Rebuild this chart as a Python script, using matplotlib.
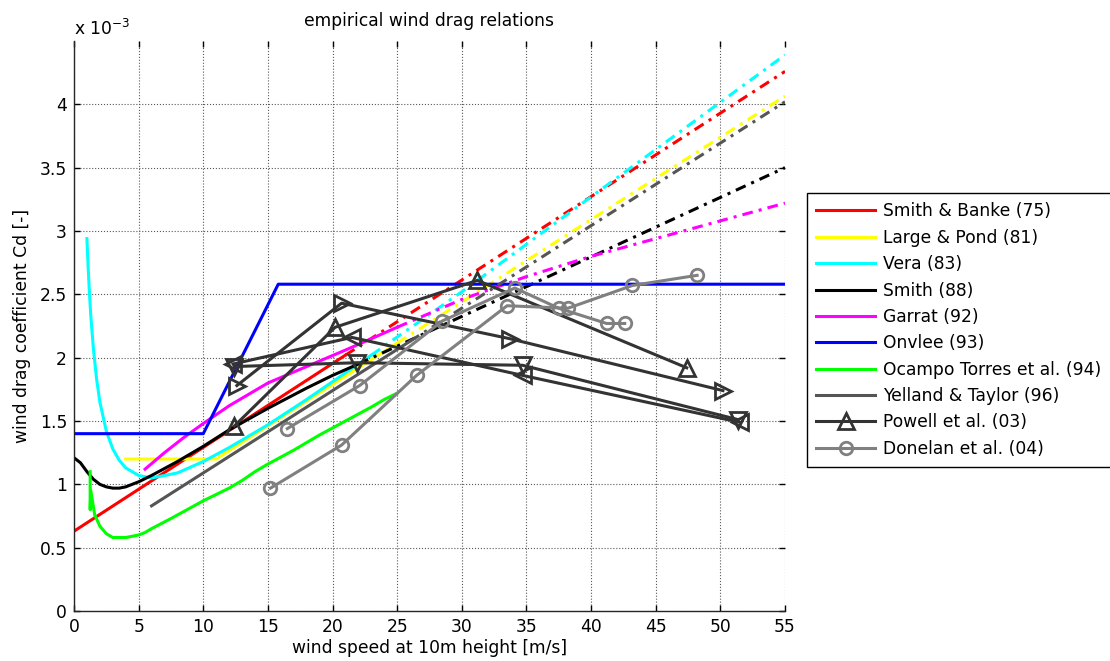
import matplotlib.pyplot as plt

# drag coefficients in units of 1e-3, wind speed in m/s
smith_banke_u = [0, 21]
smith_banke_cd = [0.63, 2.02]
smith_banke_ext_u = [21, 55]
smith_banke_ext_cd = [2.02, 4.26]

large_pond_u = [4, 11, 25]
large_pond_cd = [1.20, 1.20, 2.115]
large_pond_ext_u = [25, 55]
large_pond_ext_cd = [2.115, 4.065]

vera_u = [1.0, 1.1, 1.2, 1.3, 1.5, 1.75, 2, 2.5, 3, 3.5, 4, 5, 6, 7, 8, 10, 12, 15, 18, 20, 23]
vera_cd = [2.94, 2.70, 2.50, 2.33, 2.07, 1.83, 1.65, 1.42, 1.28, 1.19, 1.13, 1.07, 1.05, 1.07,
           1.09, 1.18, 1.29, 1.47, 1.67, 1.81, 2.02]
vera_ext_u = [23, 30, 40, 55]
vera_ext_cd = [2.02, 2.52, 3.27, 4.39]

smith88_u = [0, 0.5, 1, 1.5, 2, 2.5, 3, 3.5, 4, 5, 6, 8, 10, 12, 15, 18, 20, 22]
smith88_cd = [1.21, 1.17, 1.10, 1.04, 1.00, 0.98, 0.97, 0.97, 0.98, 1.02, 1.07, 1.18, 1.30,
              1.43, 1.60, 1.76, 1.86, 1.95]
smith88_ext_u = [22, 55]
smith88_ext_cd = [1.95, 3.50]

garrat_u = [5.5, 7, 8.5, 10, 12, 15, 18, 21, 25]
garrat_cd = [1.12, 1.25, 1.37, 1.48, 1.62, 1.80, 1.93, 2.06, 2.24]
garrat_ext_u = [25, 30, 35, 40, 45, 50, 55]
garrat_ext_cd = [2.24, 2.46, 2.64, 2.80, 2.94, 3.08, 3.22]

onvlee_u = [0, 10, 15.8, 55]
onvlee_cd = [1.40, 1.40, 2.58, 2.58]

ocampo_u = [1.25, 1.25, 1.3, 1.6, 2.0, 2.5, 3.0, 4.0, 5.0, 5.5, 6, 7.5, 10, 12, 13, 14, 15,
            17, 19, 21, 23, 24, 25]
ocampo_cd = [1.10, 0.80, 0.95, 0.76, 0.67, 0.61, 0.58, 0.58, 0.60, 0.62, 0.65, 0.73, 0.87,
             0.97, 1.03, 1.10, 1.16, 1.27, 1.39, 1.50, 1.61, 1.67, 1.72]

yelland_u = [6, 26]
yelland_cd = [0.83, 2.13]
yelland_ext_u = [26, 55]
yelland_ext_cd = [2.13, 4.02]

# Powell et al. (03), one run per marker orientation
powell_runs = {
    "^": ([12.4, 20.2, 31.2, 47.4], [1.46, 2.24, 2.61, 1.92]),
    ">": ([12.6, 20.7, 33.7, 50.2], [1.78, 2.43, 2.15, 1.74]),
    "<": ([12.3, 21.5, 34.7, 51.5], [1.95, 2.16, 1.86, 1.49]),
    "v": ([12.4, 21.9, 34.7, 51.4], [1.93, 1.96, 1.94, 1.51]),
}

donelan_a_u = [15.2, 20.7, 26.5, 33.5, 38.2, 43.2, 48.2]
donelan_a_cd = [0.97, 1.31, 1.86, 2.41, 2.39, 2.57, 2.65]
donelan_b_u = [16.5, 22.1, 28.5, 34.1, 37.5, 41.2, 42.6]
donelan_b_cd = [1.44, 1.78, 2.29, 2.55, 2.39, 2.27, 2.27]

plt.rcParams["font.family"] = ["DejaVu Sans"]
fs = 12.3
dashdot = (0, (3.5, 2, 1, 2))
lw = 2.2

fig = plt.figure(figsize=(11.1, 6.61), dpi=100)
ax = fig.add_axes([74 / 1110, 50 / 661, 711 / 1110, 570 / 661])

ax.plot(smith_banke_u, smith_banke_cd, color="#FF0000", lw=lw, label="Smith & Banke (75)")
ax.plot(smith_banke_ext_u, smith_banke_ext_cd, color="#FF0000", lw=lw, ls=dashdot)
ax.plot(large_pond_u, large_pond_cd, color="#FFFF00", lw=lw, label="Large & Pond (81)")
ax.plot(large_pond_ext_u, large_pond_ext_cd, color="#FFFF00", lw=lw, ls=dashdot)
ax.plot(vera_u, vera_cd, color="#00FFFF", lw=lw, label="Vera (83)")
ax.plot(vera_ext_u, vera_ext_cd, color="#00FFFF", lw=lw, ls=dashdot)
ax.plot(smith88_u, smith88_cd, color="#000000", lw=lw, label="Smith (88)")
ax.plot(smith88_ext_u, smith88_ext_cd, color="#000000", lw=lw, ls=dashdot)
ax.plot(garrat_u, garrat_cd, color="#FF00FF", lw=lw, label="Garrat (92)")
ax.plot(garrat_ext_u, garrat_ext_cd, color="#FF00FF", lw=lw, ls=dashdot)
ax.plot(onvlee_u, onvlee_cd, color="#0000FF", lw=lw, label="Onvlee (93)")
ax.plot(ocampo_u, ocampo_cd, color="#00FF00", lw=lw, label="Ocampo Torres et al. (94)")
ax.plot(yelland_u, yelland_cd, color="#555555", lw=lw, label="Yelland & Taylor (96)")
ax.plot(yelland_ext_u, yelland_ext_cd, color="#555555", lw=lw, ls=dashdot)

first = True
for mk, (u, cd) in powell_runs.items():
    ax.plot(u, cd, color="#333333", lw=lw, marker=mk, ms=11.5, mfc="none", mew=2,
            label="Powell et al. (03)" if first else None)
    first = False

ax.plot(donelan_a_u, donelan_a_cd, color="#808080", lw=lw, marker="o", ms=9, mfc="none",
        mew=2, label="Donelan et al. (04)")
ax.plot(donelan_b_u, donelan_b_cd, color="#808080", lw=lw, marker="o", ms=9, mfc="none", mew=2)

ax.set_xlim(0, 55)
ax.set_ylim(0, 4.5)
ax.set_xticks(range(0, 56, 5))
ax.set_yticks([0, 0.5, 1, 1.5, 2, 2.5, 3, 3.5, 4])
ax.set_yticklabels(["0", "0.5", "1", "1.5", "2", "2.5", "3", "3.5", "4"])
ax.grid(True, color="0.35", ls=":", lw=0.8)
ax.tick_params(direction="in", length=4, width=1, top=True, right=True, labelsize=fs, pad=5)
ax.spines["top"].set_visible(False)
ax.spines["right"].set_visible(False)
for side in ["left", "bottom"]:
    ax.spines[side].set_color("0.15")
    ax.spines[side].set_linewidth(1)

ax.set_title("empirical wind drag relations", fontsize=fs, pad=11)
ax.set_xlabel("wind speed at 10m height [m/s]", fontsize=fs, labelpad=2)
ax.set_ylabel("wind drag coefficient Cd [-]", fontsize=fs, labelpad=6)
ax.text(0, 1.003, r"x 10$^{-3}$", transform=ax.transAxes, fontsize=fs, ha="left", va="bottom")

leg = ax.legend(loc="upper left", bbox_to_anchor=(807 / 1110, 1 - 193 / 661),
                bbox_transform=fig.transFigure, borderaxespad=0, fontsize=fs,
                handlelength=3.45, handletextpad=0.45, labelspacing=0.49, borderpad=0.55,
                fancybox=False, framealpha=1, numpoints=1)
leg.get_frame().set_edgecolor("black")
leg.get_frame().set_linewidth(1)

fig.savefig("out.png", dpi=100)
